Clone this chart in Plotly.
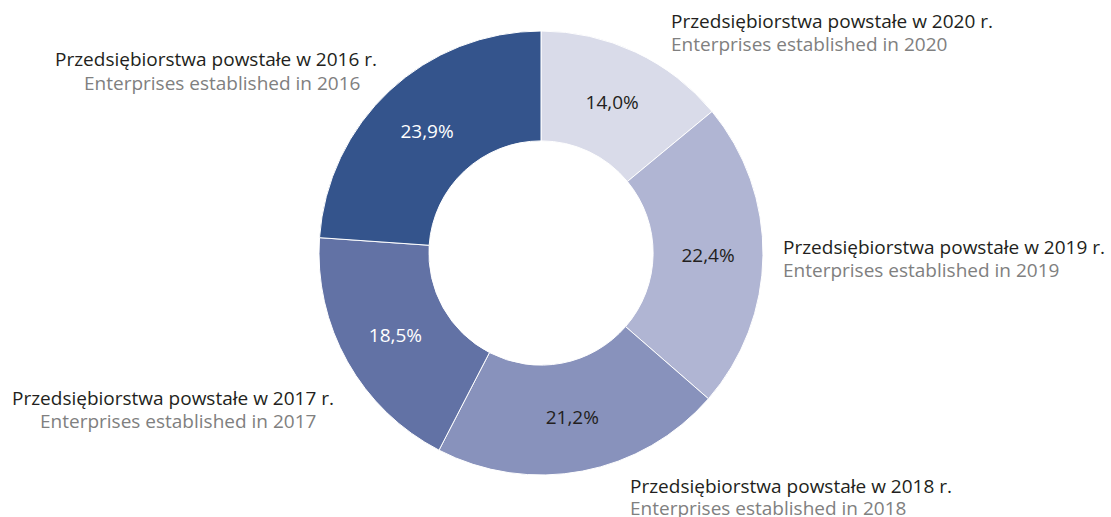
import plotly.graph_objects as go

# ── Data ─────────────────────────────────────────────────────────────────────
years = ["2020", "2019", "2018", "2017", "2016"]
shares = [14.0, 22.4, 21.2, 18.5, 23.9]
share_text = ["14,0%", "22,4%", "21,2%", "18,5%", "23,9%"]
labels_pl = [f"Przedsiębiorstwa powstałe w {y} r." for y in years]
labels_en = [f"Enterprises established in {y}" for y in years]

# ── Palette ──────────────────────────────────────────────────────────────────
SLICE_COLORS = ["#D9DBE9", "#B0B5D3", "#8892BC", "#6272A5", "#34548C"]
TEXT_COLORS = ["#231F20", "#231F20", "#231F20", "#FFFFFF", "#FFFFFF"]
DARK = "#231F20"
GRAY = "#808080"
FONT = "Open Sans"
FSIZE = 19

W, H = 1111, 517

fig = go.Figure(go.Pie(
    labels=years,
    values=shares,
    text=share_text,
    textinfo="text",
    textposition="inside",
    insidetextorientation="horizontal",
    insidetextfont=dict(family=FONT, size=FSIZE, color=TEXT_COLORS),
    hole=0.505,
    sort=False,
    direction="clockwise",
    rotation=0,
    marker=dict(colors=SLICE_COLORS, line=dict(color="white", width=1)),
    domain=dict(x=[319 / W, 763 / W], y=[1 - 475 / H, 1 - 31 / H]),
    showlegend=False,
))

# label placement (pixel positions of each two-line label)
# (x of line 1, x of line 2, y of line 1, y of line 2, anchor)
label_pos = {
    "2020": (669, 669, 21, 44, "left"),
    "2019": (781, 781, 247, 270, "left"),
    "2018": (628, 628, 486, 508, "left"),
    "2017": (336, 318, 398, 421, "right"),
    "2016": (379, 362, 59, 83, "right"),
}

for y, pl, en in zip(years, labels_pl, labels_en):
    x1, x2, y1, y2, anchor = label_pos[y]
    fig.add_annotation(text=pl, x=x1 / W, y=1 - y1 / H, xref="paper", yref="paper",
                       xanchor=anchor, yanchor="middle", showarrow=False,
                       font=dict(family=FONT, size=FSIZE, color=DARK))
    fig.add_annotation(text=en, x=x2 / W, y=1 - y2 / H, xref="paper", yref="paper",
                       xanchor=anchor, yanchor="middle", showarrow=False,
                       font=dict(family=FONT, size=FSIZE, color=GRAY))

fig.update_layout(
    width=W, height=H,
    margin=dict(l=0, r=0, t=0, b=0),
    plot_bgcolor="white", paper_bgcolor="white",
    font=dict(family=FONT, size=FSIZE, color=DARK),
)

# page has a default 8px body margin; drop it so the chart fills the window
fig.write_html("out.html", config={"displayModeBar": False},
               post_script="document.body.style.margin='0';")
